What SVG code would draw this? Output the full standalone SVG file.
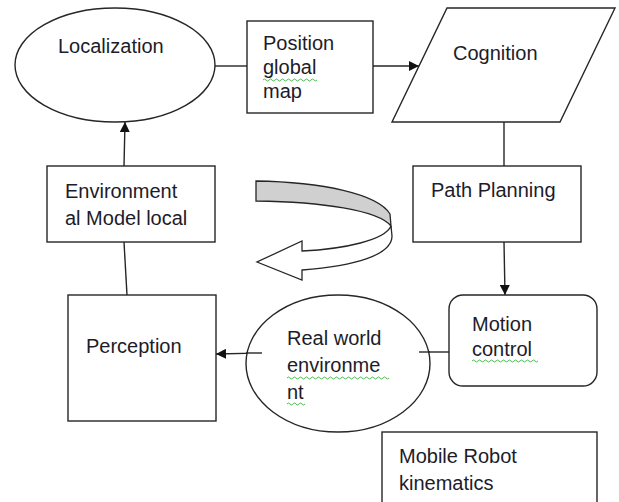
<svg xmlns="http://www.w3.org/2000/svg" width="619" height="502" viewBox="0 0 619 502">
<defs>
<style>
.s{fill:#fff;stroke:#262626;stroke-width:1.4}
.c{fill:none;stroke:#262626;stroke-width:1.4}
.t{font-family:"Liberation Sans",Arial,sans-serif;font-size:20px;fill:#1c1c2a}
.w{fill:none;stroke:#3cb043;stroke-width:0.9}
</style>
<marker id="ah" viewBox="0 0 10 10" refX="10" refY="5" markerWidth="10" markerHeight="10" markerUnits="userSpaceOnUse" orient="auto">
<path d="M0,0 L10,5 L0,10 Z" fill="#111"/>
</marker>
</defs>
<rect width="619" height="502" fill="#fff"/>
<g id="connectors">
<line class="c" x1="215" y1="66" x2="247" y2="66"/>
<line class="c" x1="373" y1="66" x2="419" y2="66" marker-end="url(#ah)"/>
<line class="c" x1="504" y1="122" x2="504" y2="166"/>
<line class="c" x1="504" y1="242" x2="505" y2="295" marker-end="url(#ah)"/>
<line class="c" x1="419" y1="352" x2="449" y2="352"/>
<line class="c" x1="262" y1="353" x2="216" y2="354" marker-end="url(#ah)"/>
<line class="c" x1="127" y1="295" x2="124" y2="242"/>
<line class="c" x1="124" y1="166" x2="125" y2="122" marker-end="url(#ah)"/>
</g>
<g id="localization">
<ellipse class="s" cx="115" cy="65" rx="100" ry="57"/>
<text class="t" x="58" y="53">Localization</text>
</g>
<g id="position">
<rect class="s" x="247" y="21" width="126" height="92"/>
<text class="t" x="263" y="50">Position</text>
<text class="t" x="263" y="74">global</text>
<text class="t" x="263" y="98">map</text>
<path class="w" d="M263,80 q1.5,-2 3,0 t3,0 t3,0 t3,0 t3,0 t3,0 t3,0 t3,0 t3,0 t3,0 t3,0 t3,0 t3,0 t3,0 t3,0 t3,0 t3,0 t3,0"/>
</g>
<g id="cognition">
<polygon class="s" points="447,8 615,8 560,122 392,122"/>
<text class="t" x="453" y="60">Cognition</text>
</g>
<g id="path-planning">
<rect class="s" x="413" y="166" width="168" height="76"/>
<text class="t" x="431" y="197">Path Planning</text>
</g>
<g id="motion-control">
<rect class="s" x="449" y="295" width="148" height="91" rx="14" ry="14"/>
<text class="t" x="472" y="331">Motion</text>
<text class="t" x="472" y="356">control</text>
<path class="w" d="M472,361 q1.5,-2 3,0 t3,0 t3,0 t3,0 t3,0 t3,0 t3,0 t3,0 t3,0 t3,0 t3,0 t3,0 t3,0 t3,0 t3,0 t3,0 t3,0 t3,0 t3,0 t3,0 t3,0 t3,0"/>
</g>
<g id="real-world">
<ellipse class="s" cx="338" cy="363.5" rx="92" ry="68.5"/>
<line class="c" x1="419" y1="352" x2="430" y2="352"/>
<line class="c" x1="246" y1="353" x2="262" y2="353"/>
<text class="t" x="287" y="345">Real world</text>
<text class="t" x="287" y="372">environme</text>
<text class="t" x="287" y="399">nt</text>
<path class="w" d="M287,378 q1.5,-2 3,0 t3,0 t3,0 t3,0 t3,0 t3,0 t3,0 t3,0 t3,0 t3,0 t3,0 t3,0 t3,0 t3,0 t3,0 t3,0 t3,0 t3,0 t3,0 t3,0 t3,0 t3,0 t3,0 t3,0 t3,0 t3,0 t3,0 t3,0 t3,0 t3,0 t3,0 t3,0 t3,0 t3,0"/>
<path class="w" d="M287,404 q1.5,-2 3,0 t3,0 t3,0 t3,0 t3,0 t3,0"/>
</g>
<g id="perception">
<rect class="s" x="68" y="295" width="148" height="126"/>
<text class="t" x="86" y="353">Perception</text>
</g>
<g id="environmental-model">
<rect class="s" x="47" y="166" width="168" height="76"/>
<text class="t" x="65" y="198">Environment</text>
<text class="t" x="65" y="225">al Model  local</text>
</g>
<g id="mobile-robot">
<rect class="s" x="382" y="432" width="215" height="80"/>
<text class="t" x="399" y="463">Mobile Robot</text>
<text class="t" x="399" y="490">kinematics</text>
</g>
<g id="curved-arrow">
<path d="M256,181 C322,182 378,194 390,214 L391,226 C378,210 322,202 256,201 Z" fill="#d0d0d0" stroke="#262626" stroke-width="1.3"/>
<path d="M391,226 C385,240 345,249 302,251 L302,241 L257,262 L302,280 L302,270 C355,266 392,255 392,236 Z" fill="#fff" stroke="#262626" stroke-width="1.3"/>
</g>
</svg>
